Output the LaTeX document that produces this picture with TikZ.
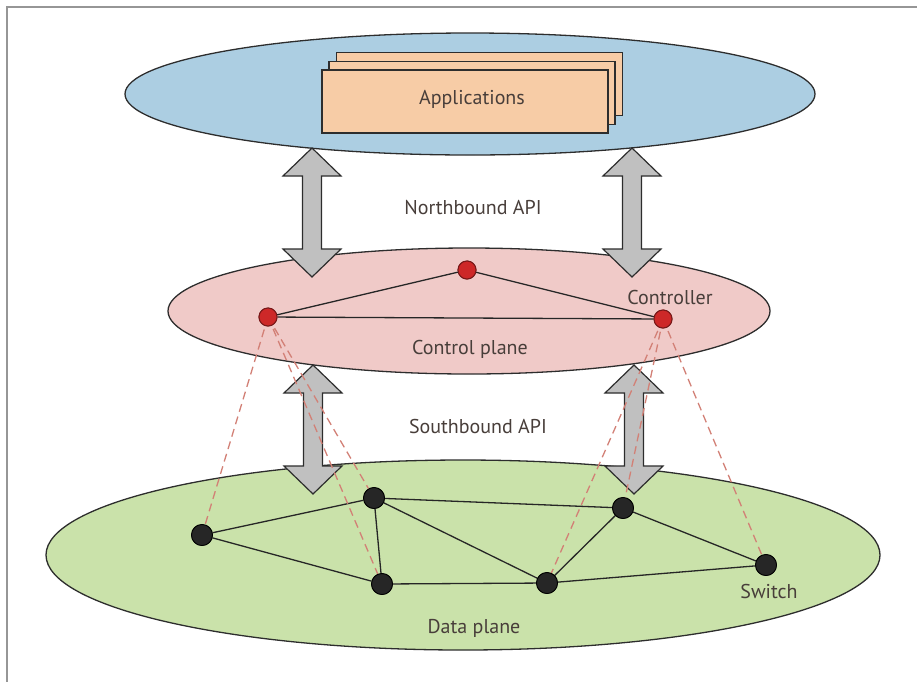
\documentclass[tikz,border=0pt]{standalone}
\usepackage{fontspec}
\setmainfont{PT Sans}
\usetikzlibrary{shapes.geometric}
\definecolor{planeblue}{RGB}{172,206,226}
\definecolor{planepink}{RGB}{240,202,200}
\definecolor{planegreen}{RGB}{202,226,170}
\definecolor{apppeach}{RGB}{247,204,166}
\definecolor{arrowgray}{RGB}{192,192,192}
\definecolor{outline}{RGB}{45,45,45}
\definecolor{txt}{RGB}{72,62,58}
\definecolor{ctrlred}{RGB}{205,40,40}
\definecolor{ctrledge}{RGB}{120,25,25}
\definecolor{dashred}{RGB}{210,128,118}
\definecolor{framegray}{RGB}{150,150,150}
\tikzset{
  plane/.style={ellipse, draw=outline, line width=1.3pt, inner sep=0pt},
  appbox/.style={rectangle, draw=outline, fill=apppeach, line width=1.2pt, inner sep=0pt, minimum width=286pt, minimum height=63pt},
  lbl/.style={text=txt, font=\fontsize{20}{23}\selectfont, inner sep=0pt},
  ctrl/.style={circle, draw=ctrledge, fill=ctrlred, line width=1pt, minimum size=18pt, inner sep=0pt},
  sw/.style={circle, draw=black, fill=black!85, line width=0.8pt, minimum size=21pt, inner sep=0pt},
  link/.style={draw=black!85, line width=1.3pt},
  ctrllink/.style={draw=dashred, line width=1.3pt, dash pattern=on 8pt off 5pt},
  blockarrow/.style={draw=outline, fill=arrowgray, line width=1.2pt, line join=miter},
  frame/.style={draw=framegray, line width=2pt}
}
\newcommand{\blkarrow}[3]{% centre x, top tip y, bottom tip y
  \path[blockarrow] (#1,#2) -- ++(29,28) -- ++(-19.5,0) -- (#1+9.5,#3-28) -- ++(19.5,0) -- (#1,#3)
    -- ++(-29,-28) -- ++(19.5,0) -- (#1-9.5,#2+28) -- ++(-19.5,0) -- cycle;}
\begin{document}
\begin{tikzpicture}[x=1pt,y=-1pt]
\useasboundingbox (0,0) rectangle (917,681);
\draw[frame] (7,690) -- (7,7) -- (925,7);

% planes
\node[plane, fill=planeblue, minimum width=690pt, minimum height=122pt] (app) at (470,94) {};
\node[plane, fill=planepink, minimum width=602pt, minimum height=126pt] (cp) at (469,311) {};
\node[plane, fill=planegreen, minimum width=834pt, minimum height=190pt] (dp) at (463,555) {};

% applications stack
\node[appbox] (app3) at (479.5,84) {};
\node[appbox] (app2) at (472,93) {};
\node[appbox] (app1) at (465,101.5) {};
\node[lbl] (applbl) at (472,99) {Applications};

% block arrows
\blkarrow{312}{148}{277}
\blkarrow{632}{148}{277}
\blkarrow{313}{365}{494}
\blkarrow{634}{365}{494}

\node[lbl] (nb) at (473,208) {Northbound API};
\node[lbl] (sb) at (478,426) {Southbound API};
\node[lbl] (cplbl) at (470,349) {Control plane};
\node[lbl] (ctrllbl) at (670,297) {Controller};
\node[lbl] (dplbl) at (474,628) {Data plane};
\node[lbl] (swlbl) at (769,591) {Switch};

% controllers
\coordinate (Lc) at (268,317);
\coordinate (Tc) at (467,270);
\coordinate (Rc) at (663,319);
% switches
\coordinate (Ac) at (202,535);
\coordinate (Bc) at (374,498);
\coordinate (Cc) at (382,584);
\coordinate (Dc) at (623,508);
\coordinate (Ec) at (547,583);
\coordinate (Fc) at (766,565);

\node[ctrl] (L) at (Lc) {};
\node[ctrl] (T) at (Tc) {};
\node[ctrl] (R) at (Rc) {};
\node[sw] (A) at (Ac) {};
\node[sw] (B) at (Bc) {};
\node[sw] (C) at (Cc) {};
\node[sw] (D) at (Dc) {};
\node[sw] (E) at (Ec) {};
\node[sw] (F) at (Fc) {};

% links
\path[link] (L) -- (T) (T) -- (R) (L) -- (R);
\path[link] (A) -- (B) (A) -- (C) (B) -- (C) (B) -- (D) (B) -- (E) (C) -- (E) (E) -- (D) (D) -- (F) (E) -- (F);

% control channels
\path[ctrllink] (Lc) -- (A) (Lc) -- (B) (Lc) -- (C);
\path[ctrllink] (Rc) -- (E) (Rc) -- (D) (Rc) -- (F);

% redraw nodes on top
\node[ctrl] at (Lc) {};
\node[ctrl] at (Tc) {};
\node[ctrl] at (Rc) {};
\node[sw] at (Ac) {};
\node[sw] at (Bc) {};
\node[sw] at (Cc) {};
\node[sw] at (Dc) {};
\node[sw] at (Ec) {};
\node[sw] at (Fc) {};
\end{tikzpicture}
\end{document}
